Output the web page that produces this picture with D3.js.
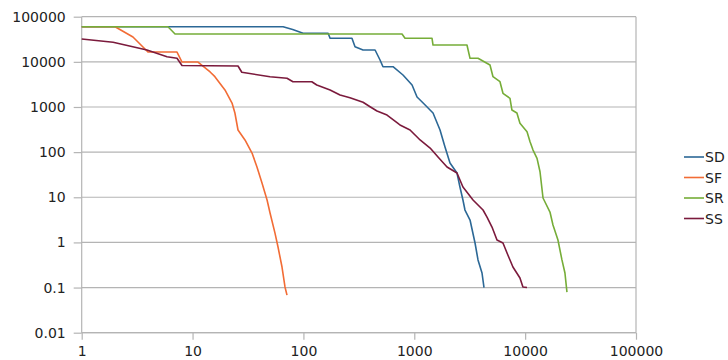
<!DOCTYPE html>
<html>
<head>
<meta charset="utf-8">
<script src="https://cdn.jsdelivr.net/npm/d3@7"></script>
<style>
  body { margin: 0; background: #fff; }
  svg text { font-family: "DejaVu Sans", sans-serif; fill: #222; }
</style>
</head>
<body>
<div class="viz"></div>
<script>
// tick values / labels
const xTicks = [1, 10, 100, 1000, 10000, 100000];
const xTickLabels = ["1", "10", "100", "1000", "10000", "100000"];
const yTicks = [0.01, 0.1, 1, 10, 100, 1000, 10000, 100000];
const yTickLabels = ["0.01", "0.1", "1", "10", "100", "1000", "10000", "100000"];

const seriesNames = ["SD", "SF", "SR", "SS"];
const seriesColors = ["#2c6896", "#f26c35", "#76ad38", "#7b1a3c"];

// [x, y] points
const sd = [
  [1, 60000], [65.6, 60000], [80, 52000], [99.3, 42900], [167, 42900], [174, 33200],
  [274, 33200], [292, 21600], [345, 18300], [443, 18300], [491, 10990], [522, 7800],
  [643, 7800], [791, 5110], [955, 3070], [1059, 1660], [1202, 1225], [1476, 736],
  [1707, 309], [1893, 130], [2100, 57.4], [2428, 34.4], [2582, 16.9], [2748, 8.7],
  [2866, 5.22], [3184, 3.13], [3532, 0.97], [3757, 0.41], [4083, 0.21], [4255, 0.1]
];
const sf = [
  [1, 60000], [2.0, 60000], [2.9, 35500], [3.96, 16500], [7.24, 16500], [8.03, 9910],
  [11.2, 9910], [14.4, 5960], [15.9, 4690], [19.6, 2380], [22.7, 1225], [24.1, 736],
  [25.7, 309], [29.7, 186], [34.4, 95.5], [38.1, 46.8], [42.3, 20.7], [47, 8.7],
  [50, 4.48], [55.4, 1.61], [59, 0.79], [64.1, 0.285], [68.2, 0.103], [71.1, 0.068]
];
const sr = [
  [1, 60000], [6.0, 60000], [6.95, 41400], [775, 41400], [825, 33200], [1446, 33200],
  [1476, 23600], [2988, 23600], [3184, 11970], [3757, 11970], [4819, 8500], [5130, 4690],
  [5930, 3630], [6310, 2010], [7300, 1557], [7600, 857], [8430, 736], [8980, 435],
  [10400, 283], [11070, 170], [11780, 111], [12800, 73], [13620, 36.8], [14500, 9.63],
  [16750, 4.71], [17830, 2.43], [19770, 1.13], [21480, 0.41], [22860, 0.21], [23830, 0.079]
];
const ss = [
  [1, 32100], [1.92, 27100], [3.88, 18300], [5.88, 13000], [7.24, 11970], [8.03, 8300],
  [25.7, 8090], [27.8, 5870], [50, 4690], [71.1, 4320], [80.5, 3630], [119, 3630],
  [132, 3070], [174, 2380], [214, 1840], [263, 1605], [345, 1270], [399, 1014],
  [461, 815], [568, 664], [713, 435], [743, 399], [916, 309], [1128, 186], [1390, 123],
  [1637, 78], [1974, 46.8], [2428, 34.4], [2748, 16.9], [3388, 8.7], [4170, 5.22],
  [4529, 3.65], [5024, 2.19], [5573, 1.13], [6310, 0.97], [7000, 0.52], [7760, 0.285],
  [8980, 0.163], [9550, 0.103], [10400, 0.1]
];
const seriesData = [sd, sf, sr, ss];

var W = 728, H = 360;
var margin = { top: 16.7, left: 81.7 },
    width = 636 - margin.left,
    height = 332.7 - margin.top;

var svg = d3.select('.viz').append('svg')
    .attr('width', W)
    .attr('height', H);

var g = svg.append('g')
    .attr('transform', 'translate(' + margin.left + ',' + margin.top + ')');

var x = d3.scaleLog().domain([1, 100000]).range([0, width]);
var y = d3.scaleLog().domain([0.01, 100000]).range([height, 0]);

// horizontal grid
g.append('g')
    .selectAll('line')
    .data(yTicks)
    .enter().append('line')
    .attr('x1', 0).attr('x2', width)
    .attr('y1', d => y(d)).attr('y2', d => y(d))
    .attr('stroke', '#b4b4b4')
    .attr('stroke-width', 1.2);

// right border of plot area
g.append('line')
    .attr('x1', width).attr('x2', width)
    .attr('y1', 0).attr('y2', height)
    .attr('stroke', '#b4b4b4')
    .attr('stroke-width', 1.2);

var yAxis = g.append('g')
    .call(d3.axisLeft(y).tickValues(yTicks).tickSize(8).tickPadding(8)
        .tickFormat((d, i) => yTickLabels[i]));
var xAxis = g.append('g')
    .attr('transform', 'translate(0,' + height + ')')
    .call(d3.axisBottom(x).tickValues(xTicks).tickSize(7).tickPadding(6)
        .tickFormat((d, i) => xTickLabels[i]));

[yAxis, xAxis].forEach(a => {
    a.select('.domain').attr('stroke', '#b4b4b4').attr('stroke-width', 1.2);
    a.selectAll('.tick line').attr('stroke', '#b4b4b4').attr('stroke-width', 1.2);
    a.selectAll('.tick text').style('font-size', '14px').attr('fill', '#222')
        .style('font-family', '"DejaVu Sans", sans-serif');
});
yAxis.select('.domain').attr('d', 'M0,0V' + height);
xAxis.select('.domain').attr('d', 'M0,0H' + width);

var line = d3.line()
    .x(d => x(d[0]))
    .y(d => y(d[1]));

g.append('g')
    .selectAll('path')
    .data(seriesData)
    .enter().append('path')
    .attr('d', line)
    .attr('fill', 'none')
    .attr('stroke', (d, i) => seriesColors[i])
    .attr('stroke-width', 1.6)
    .attr('stroke-linejoin', 'round');

// legend
var legend = svg.append('g')
    .selectAll('g')
    .data(seriesNames)
    .enter().append('g')
    .attr('transform', (d, i) => 'translate(684,' + (157 + i * 20.5) + ')');

legend.append('line')
    .attr('x1', 0).attr('x2', 20)
    .attr('stroke', (d, i) => seriesColors[i])
    .attr('stroke-width', 1.6);

legend.append('text')
    .attr('x', 21)
    .attr('dy', '0.36em')
    .style('font-size', '14px')
    .text(d => d);
</script>
</body>
</html>
